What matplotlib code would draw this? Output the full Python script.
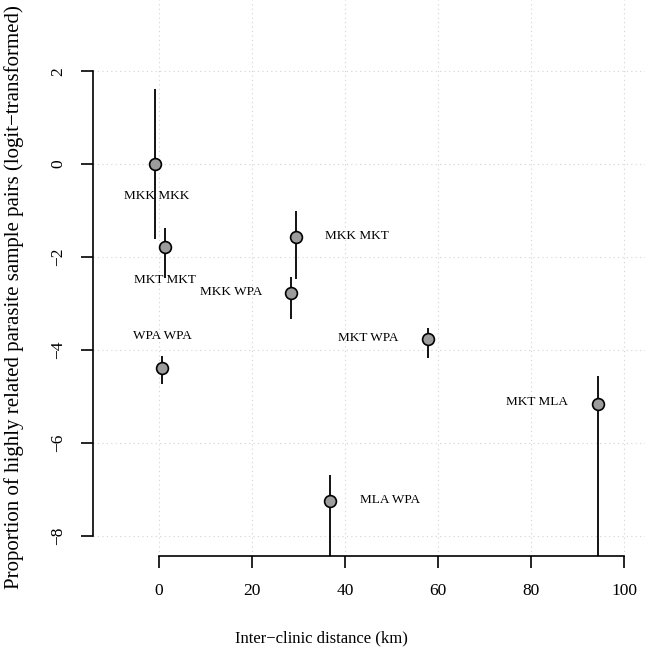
import matplotlib.pyplot as plt
import numpy as np

plt.rcParams['font.family'] = ['Liberation Serif', 'DejaVu Serif']

# clinic pairs
pair_labels = ["MKK MKK", "MKT MKT", "MKK MKT", "MKK WPA", "WPA WPA",
               "MKT WPA", "MKT MLA", "MLA WPA"]
distance = [-0.8, 1.3, 29.5, 28.4, 0.6, 57.8, 94.3, 36.8]
estimate = [0.0, -1.79, -1.57, -2.77, -4.39, -3.76, -5.16, -7.25]
ci_upper = [1.62, -1.38, -1.0, -2.42, -4.13, -3.53, -4.56, -6.69]
ci_lower = [-1.61, -2.44, -2.47, -3.34, -4.72, -4.18, -12.0, -12.0]

# label positions (next to each point)
label_x = [-0.6, 1.3, 42.6, 15.5, 0.8, 45.0, 81.3, 49.7]
label_y = [-0.69, -2.49, -1.55, -2.75, -3.70, -3.74, -5.12, -7.23]

x_ticks = [0, 20, 40, 60, 80, 100]
y_ticks = [2, 0, -2, -4, -6, -8]

fig = plt.figure(figsize=(6.45, 6.53), dpi=100)
ax = fig.add_axes([93/645, 97/653, 1 - 93/645, 556/653])
ax.set_xlim(-14.2, 104.5)
ax.set_ylim(-8.43, 3.53)

for v in x_ticks:
    ax.axvline(v, color='lightgray', ls=(0, (1, 3)), lw=0.8, zorder=0)
for v in y_ticks:
    ax.axhline(v, color='lightgray', ls=(0, (1, 3)), lw=0.8, zorder=0)

ax.vlines(distance, ci_lower, ci_upper, color='black', lw=1.3, zorder=2)
ax.plot(distance, estimate, 'o', ms=8.5, mfc='#9c9c9c', mec='black',
        mew=1.2, zorder=3)

for lab, lx, ly in zip(pair_labels, label_x, label_y):
    ax.text(lx, ly, lab, ha='center', va='center', fontsize=9.5, zorder=4)

for s in ['top', 'right']:
    ax.spines[s].set_visible(False)
ax.spines['left'].set_bounds(-8, 2)
ax.spines['bottom'].set_bounds(0, 100)
ax.spines['left'].set_linewidth(1.2)
ax.spines['bottom'].set_linewidth(1.2)

ax.set_xticks(x_ticks)
ax.set_yticks(y_ticks)
ax.set_yticklabels([str(v).replace('-', '\u2212') for v in y_ticks],
                   rotation=90, va='center')
ax.tick_params(length=8.5, width=1.2, labelsize=12.5, pad=11)

fig.text(321/645, 1 - 638/653, "Inter\u2212clinic distance (km)",
         ha='center', va='center', fontsize=12)
fig.text(14/645, 1 - 297/653,
         "Proportion of highly related parasite sample pairs (logit\u2212transformed)",
         ha='center', va='center', rotation=90, fontsize=15)

fig.savefig("out.png", dpi=100)
